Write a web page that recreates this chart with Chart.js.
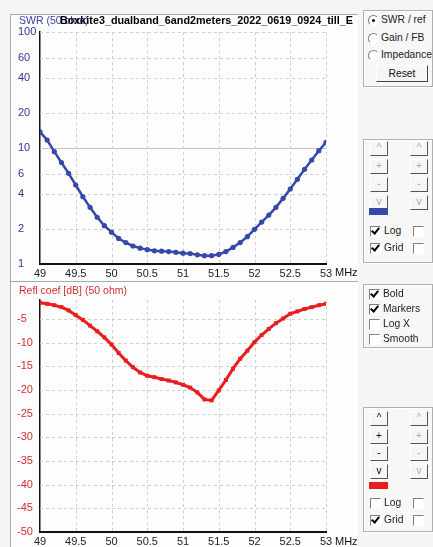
<!DOCTYPE html>
<html><head><meta charset="utf-8">
<script src="https://cdn.jsdelivr.net/npm/chart.js@4/dist/chart.umd.min.js"></script>
<style>
html,body{margin:0;padding:0;width:433px;height:547px;overflow:hidden;background:#f5f5f5;font-family:"Liberation Sans",Arial,sans-serif;font-size:11px;color:#111;}
.panel{position:absolute;background:#fdfdfd;border-left:1px solid #a8a8a8;border-top:1px solid #a8a8a8;}
canvas{position:absolute;}
.t{position:absolute;white-space:nowrap;line-height:12px;}
.r{font-size:10.3px;color:#222;}
.box{position:absolute;border:1px solid #b0b0b0;box-shadow:inset 1px 1px 0 #fff,1px 1px 0 #fff;background:#f7f7f7;}
.btn{position:absolute;width:16px;height:13px;background:#f6f6f6;border-top:1px solid #fff;border-left:1px solid #fff;border-right:1px solid #555;border-bottom:1px solid #555;text-align:center;font-size:10px;line-height:12px;color:#aaa;}
.btn.on{color:#000;}
.cb{position:absolute;width:9px;height:9px;border-top:1px solid #808080;border-left:1px solid #808080;border-right:1px solid #fff;border-bottom:1px solid #fff;background:#fff;}
.cb.ck::after{content:"";position:absolute;left:2px;top:-1px;width:3px;height:6px;border-right:2px solid #000;border-bottom:2px solid #000;transform:rotate(40deg);}
.rd{position:absolute;width:9px;height:9px;border-radius:50%;border-top:1px solid #808080;border-left:1px solid #808080;border-right:1px solid #fff;border-bottom:1px solid #fff;background:#fff;}
.rd.ck::after{content:"";position:absolute;left:3px;top:3px;width:3px;height:3px;border-radius:50%;background:#000;}
.reset{position:absolute;background:#f6f6f6;border-top:1px solid #fff;border-left:1px solid #fff;border-right:1px solid #444;border-bottom:1px solid #444;text-align:center;line-height:15px;font-size:10.3px;}
</style></head>
<body>
<div class="panel" style="left:10px;top:14px;width:347px;height:267px;"></div>
<div class="panel" style="left:10px;top:281px;width:347px;height:270px;"></div>
<canvas id="c1" width="350" height="266" style="left:10px;top:14px;width:350px;height:266px;"></canvas>
<canvas id="c2" width="350" height="264" style="left:10px;top:284px;width:350px;height:264px;"></canvas>

<div class="t" style="left:19px;top:14px;color:#3c3ca8;font-size:10.5px;">SWR (50 ohm)</div>
<div class="t" id="fname" style="left:60px;top:14px;font-weight:bold;color:#000;transform-origin:0 0;">Boxkite3_dualband_6and2meters_2022_0619_0924_till_E</div>
<div class="t" style="left:335px;top:266px;">MHz</div>
<div class="t" style="left:19px;top:284px;color:#d03030;font-size:10.5px;">Refl coef [dB] (50 ohm)</div>
<div class="t" style="left:335px;top:535px;">MHz</div>

<!-- box 1 -->
<div class="box" style="left:363px;top:10px;width:68px;height:75px;"></div>
<div class="rd ck" style="left:368px;top:15px;"></div><div class="t r" style="left:381px;top:14px;">SWR / ref</div>
<div class="rd" style="left:368px;top:33px;"></div><div class="t r" style="left:381px;top:32px;">Gain / FB</div>
<div class="rd" style="left:368px;top:50px;"></div><div class="t r" style="left:381px;top:49px;">Impedance</div>
<div class="reset" style="left:376px;top:65px;width:50px;height:15px;">Reset</div>

<!-- box 2 -->
<div class="box" style="left:363px;top:139px;width:68px;height:122px;"></div>
<div class="btn" style="left:370px;top:141px;">^</div><div class="btn" style="left:410px;top:141px;">^</div>
<div class="btn" style="left:370px;top:159px;">+</div><div class="btn" style="left:410px;top:159px;">+</div>
<div class="btn" style="left:370px;top:177px;">-</div><div class="btn" style="left:410px;top:177px;">-</div>
<div class="btn" style="left:370px;top:195px;">v</div><div class="btn" style="left:410px;top:195px;">v</div>
<div style="position:absolute;left:369px;top:208px;width:19px;height:7px;background:#3848a8;"></div>
<div class="cb ck" style="left:370px;top:226px;"></div><div class="t r" style="left:384px;top:225px;">Log</div><div class="cb" style="left:413px;top:226px;"></div>
<div class="cb ck" style="left:370px;top:243px;"></div><div class="t r" style="left:384px;top:242px;">Grid</div><div class="cb" style="left:413px;top:243px;"></div>

<!-- box 3 -->
<div class="box" style="left:363px;top:284px;width:68px;height:62px;"></div>
<div class="cb ck" style="left:369px;top:289px;"></div><div class="t r" style="left:383px;top:288px;">Bold</div>
<div class="cb ck" style="left:369px;top:304px;"></div><div class="t r" style="left:383px;top:303px;">Markers</div>
<div class="cb" style="left:369px;top:319px;"></div><div class="t r" style="left:383px;top:318px;">Log X</div>
<div class="cb" style="left:369px;top:334px;"></div><div class="t r" style="left:383px;top:333px;">Smooth</div>

<!-- box 4 -->
<div class="box" style="left:363px;top:407px;width:68px;height:123px;"></div>
<div class="btn on" style="left:370px;top:411px;">^</div><div class="btn" style="left:410px;top:411px;">^</div>
<div class="btn on" style="left:370px;top:429px;">+</div><div class="btn" style="left:410px;top:429px;">+</div>
<div class="btn on" style="left:370px;top:446px;">-</div><div class="btn" style="left:410px;top:446px;">-</div>
<div class="btn on" style="left:370px;top:464px;">v</div><div class="btn" style="left:410px;top:464px;">v</div>
<div style="position:absolute;left:369px;top:482px;width:19px;height:7px;background:#e81e1e;"></div>
<div class="cb" style="left:370px;top:498px;"></div><div class="t r" style="left:384px;top:497px;">Log</div><div class="cb" style="left:413px;top:498px;"></div>
<div class="cb ck" style="left:370px;top:515px;"></div><div class="t r" style="left:384px;top:514px;">Grid</div><div class="cb" style="left:413px;top:515px;"></div>

<script>
// ---- data ----
const freqMHz = [49.0,49.1,49.2,49.3,49.4,49.5,49.6,49.7,49.8,49.9,50.0,50.1,50.2,50.3,50.4,50.5,50.6,50.7,50.8,50.9,51.0,51.1,51.2,51.3,51.4,51.5,51.6,51.7,51.8,51.9,52.0,52.1,52.2,52.3,52.4,52.5,52.6,52.7,52.8,52.9,53.0];
const swr = [13.8,11.7,9.3,7.5,6.05,4.8,3.8,3.08,2.53,2.14,1.88,1.66,1.53,1.43,1.37,1.33,1.30,1.29,1.28,1.26,1.24,1.23,1.20,1.18,1.18,1.21,1.28,1.39,1.53,1.72,1.99,2.30,2.64,3.08,3.68,4.43,5.37,6.55,7.88,9.48,11.2];
const reflDb = [-1.6,-1.8,-2.1,-2.5,-3.2,-4.2,-5.2,-6.4,-7.6,-8.9,-10.4,-12.2,-13.8,-15.2,-16.3,-17.0,-17.3,-17.7,-18.0,-18.4,-18.9,-19.5,-20.5,-22.0,-22.2,-20.1,-17.9,-15.5,-13.4,-11.7,-9.9,-8.4,-7.1,-5.9,-4.9,-3.9,-3.4,-2.9,-2.5,-2.1,-1.8];
const xTicks = [49,49.5,50,50.5,51,51.5,52,52.5,53];
const xTickLabels = ["49","49.5","50","50.5","51","51.5","52","52.5","53"];
const swrTicks = [1,2,4,6,10,20,40,60,100];
const reflTicks = [-5,-10,-15,-20,-25,-30,-35,-40,-45,-50];

// fit file-name title width
(function(){const e=document.getElementById('fname');const w=e.getBoundingClientRect().width;e.style.transform='scaleX('+(293/w)+')';})();

Chart.defaults.font.family = '"Liberation Sans", Arial, sans-serif';
Chart.defaults.font.size = 11;
Chart.defaults.animation = false;

const gridPlugin = {
  id:'customGrid',
  beforeDatasetsDraw(chart, args, opts){
    const ctx = chart.ctx, a = chart.chartArea;
    const xs = chart.scales.x, ys = chart.scales.y;
    ctx.save();
    ctx.lineWidth = 1;
    ctx.strokeStyle = '#cfcfcf';
    ctx.setLineDash([3,3]);
    xTicks.forEach(v=>{ if(v===xs.min) return; const px=Math.round(xs.getPixelForValue(v))+0.5; ctx.beginPath(); ctx.moveTo(px,a.top); ctx.lineTo(px,a.bottom); ctx.stroke(); });
    opts.yTicks.forEach(v=>{ if(v===ys.min) return; const py=Math.round(ys.getPixelForValue(v))+0.5;
      if(opts.solid && opts.solid.includes(v)){ctx.setLineDash([]);ctx.strokeStyle='#c4c4c4';} else {ctx.setLineDash([3,3]);ctx.strokeStyle='#cfcfcf';}
      ctx.beginPath(); ctx.moveTo(a.left,py); ctx.lineTo(a.right,py); ctx.stroke(); });
    ctx.restore();
  }
};

function xScale(){
  return {type:'linear',min:49,max:53,
    afterBuildTicks:s=>{s.ticks=xTicks.map(v=>({value:v}));},
    afterFit:s=>{s.height=16;},
    ticks:{color:'#222',padding:3,autoSkip:false,maxRotation:0,callback:(v)=>xTickLabels[xTicks.indexOf(v)]},
    grid:{display:true,drawOnChartArea:false,drawTicks:false},
    border:{display:true,color:'#111',width:2}};
}

new Chart(document.getElementById('c1'),{
  type:'line',
  data:{datasets:[{data:freqMHz.map((f,i)=>({x:f,y:swr[i]})),borderColor:'#3848a8',backgroundColor:'#3848a8',borderWidth:2.5,pointRadius:2.6,pointBorderWidth:0,tension:0}]},
  options:{responsive:false,maintainAspectRatio:false,
    layout:{padding:{left:8,top:18,right:34,bottom:0}},
    plugins:{legend:{display:false},tooltip:{enabled:false},customGrid:{yTicks:swrTicks,solid:[10]}},
    scales:{
      x:xScale(),
      y:{type:'logarithmic',min:1,max:100,
        afterBuildTicks:s=>{s.ticks=swrTicks.map(v=>({value:v}));},
        afterFit:s=>{s.width=22;},
        ticks:{color:'#33339a',crossAlign:'far',autoSkip:false,callback:v=>String(v)},
        grid:{display:true,drawOnChartArea:false,drawTicks:false},
        border:{display:true,color:'#111',width:1.5}}
    }},
  plugins:[gridPlugin]
});

new Chart(document.getElementById('c2'),{
  type:'line',
  data:{datasets:[{data:freqMHz.map((f,i)=>({x:f,y:reflDb[i]})),borderColor:'#e81e1e',backgroundColor:'#e81e1e',borderWidth:3,pointRadius:2.8,pointBorderWidth:0,pointStyle:'rect',tension:0}]},
  options:{responsive:false,maintainAspectRatio:false,
    layout:{padding:{left:7,top:16,right:34,bottom:0}},
    plugins:{legend:{display:false},tooltip:{enabled:false},customGrid:{yTicks:reflTicks}},
    scales:{
      x:xScale(),
      y:{type:'linear',min:-50,max:-1,
        afterBuildTicks:s=>{s.ticks=reflTicks.map(v=>({value:v}));},
        afterFit:s=>{s.width=23;},
        ticks:{color:'#d03030',crossAlign:'far',autoSkip:false,callback:v=>String(v)},
        grid:{display:true,drawOnChartArea:false,drawTicks:false},
        border:{display:true,color:'#111',width:1.5}}
    }},
  plugins:[gridPlugin]
});
</script>
</body></html>
